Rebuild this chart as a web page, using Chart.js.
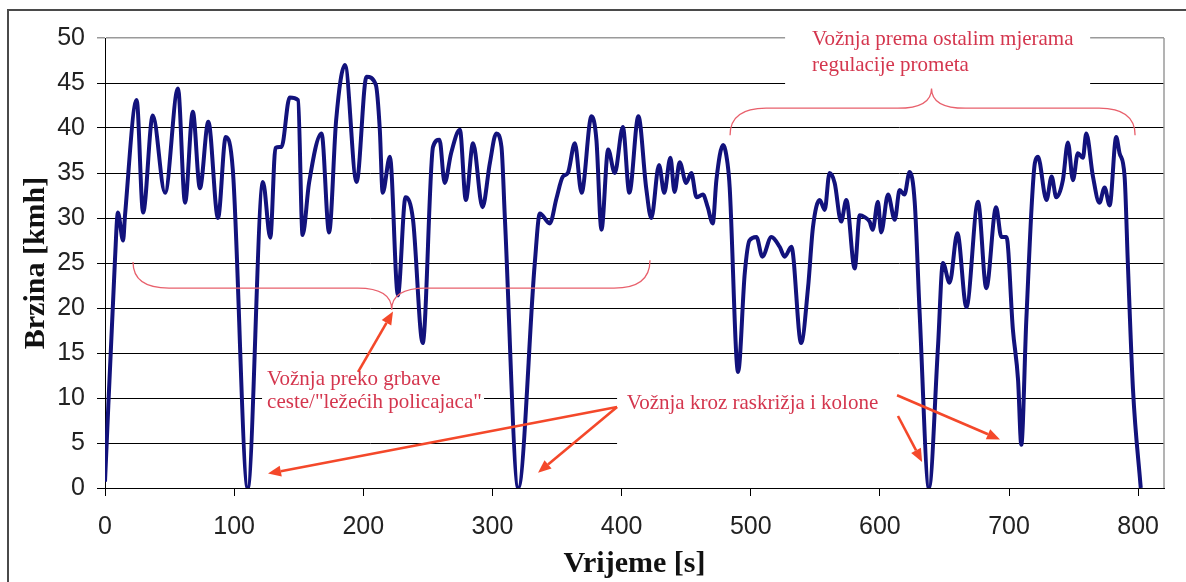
<!DOCTYPE html>
<html>
<head>
<meta charset="utf-8">
<script src="https://cdn.jsdelivr.net/npm/chart.js@4.4.1/dist/chart.umd.min.js"></script>
<style>
  html, body { margin: 0; padding: 0; background: #fff; }
  canvas { display: block; }
</style>
</head>
<body>
<canvas id="speedChart" width="1186" height="582"></canvas>
<script>
// vrijeme [s] i brzina [km/h] ocitane s voznje
const timeS = [
  0, 7.7, 10, 14, 15.5, 24.5, 29.5, 37, 46.5, 56.5, 62, 68, 73.5, 80, 87.5, 93.5, 99,
  110.5, 122.3, 128, 132, 136.7, 143, 149.5, 153, 158, 167.7, 173.5, 179, 185.8, 194.8,
  202.5, 209.7, 212.8, 215, 220.6, 226.8, 232.7, 238.5, 246, 254, 259, 263, 268, 274.8,
  279.4, 285, 292.3, 298, 303, 307, 309.6, 320, 332.8, 336.7, 344.4, 349.6, 354.5, 358.4,
  363.8, 369, 376.7, 380.5, 384.4, 389.6, 394.7, 401, 406, 413, 419, 423, 429, 433, 437.8,
  441, 445, 450, 454, 458, 463, 466.7, 470.6, 473.4, 478.6, 482, 483.7, 490.2, 495.4, 499,
  504.4, 509, 516, 522.4, 526.3, 531.5, 539, 544.4, 548.2, 553.4, 557.3, 561, 565, 570, 574,
  580.5, 584.4, 588.2, 592, 594.4, 598.5, 601, 606.3, 611.5, 615.3, 619, 623, 627, 630.8,
  638, 645, 648.8, 654, 660, 667, 676, 682.4, 690, 694, 698, 703, 707, 709.5, 713.4, 720,
  722.4, 729, 733, 736.6, 741.7, 745.6, 749.5, 753.3, 757.2, 759.8, 765, 770, 774, 777.9,
  783, 785.6, 789.5, 792, 796, 802
];
const speedKmh = [
  0.7, 25.3, 30.6, 27.5, 30.3, 43.1, 30.6, 41.4, 32.8, 44.4, 31.7, 41.8, 33.3, 40.7, 30, 39, 35.3,
  0, 34, 27.8, 37.8, 37.9, 43.4, 43.1, 28.1, 33.9, 39.4, 28.4, 40.9, 47, 34,
  45.7, 44.8, 39.8, 32.8, 36.8, 21.4, 32.3, 29.8, 16.1, 37.9, 38.7, 33.9, 37.2, 39.8,
  32, 38.3, 31.2, 36.1, 39.4, 37.9, 30.1, 0, 25, 30.5, 29.4, 32.2, 34.6, 35,
  38.3, 32.8, 41.3, 38.7, 28.7, 37.6, 35, 40.1, 32.8, 41.3, 33.4, 30, 35.9, 32.8, 36.7,
  32.9, 36.2, 33.9, 35, 32.3, 32.6, 31.2, 29.4, 34.2, 38.1, 36.1, 33.4, 12.9, 23.9, 27.5,
  27.9, 25.7, 27.9, 26.8, 25.7, 26.8, 16.1, 22.3, 29, 32, 30.9, 35, 33.9, 29.6, 32,
  24.4, 30.3, 30.1, 29.6, 28.7, 31.8, 28.4, 32.6, 29.8, 33.1, 32.6, 35.1, 31.7, 19.4,
  0, 15.7, 25, 22.8, 28.3, 20.1, 31.8, 22.2, 31.2, 27.9, 27.9, 17.6, 12, 4.8, 18.7, 36.1,
  36.8, 32, 34.6, 32.3, 34.2, 38.4, 34.2, 37.2, 36.7, 39.4, 34.6, 31.7, 33.4, 31.4,
  39, 37.2, 34.6, 25, 10.9, 0
];
const xTicks = [0, 100, 200, 300, 400, 500, 600, 700, 800];
const yTicks = [0, 5, 10, 15, 20, 25, 30, 35, 40, 45, 50];

// opisi dijelova voznje (u jedinicama osi: s, km/h)
const noteBoxes = [
  { t0: 121.6, t1: 293.5, v0: 13.7, v1: 8.3 },
  { t0: 396.5, t1: 633.5, v0: 13.3, v1: 3.3 },
  { t0: 526.6, t1: 762.8, v0: 52.2, v1: 43.6 }
];
const noteTexts = [
  { t: 125.5, v: 12.1, text: 'Vožnja preko grbave' },
  { t: 125.5, v: 9.5, text: 'ceste/"ležećih policajaca"' },
  { t: 404, v: 9.4, text: 'Vožnja kroz raskrižja i kolone' },
  { t: 547.5, v: 49.8, text: 'Vožnja prema ostalim mjerama' },
  { t: 547.5, v: 47.0, text: 'regulacije prometa' }
];
const noteArrows = [
  { from: [196, 12.9], to: [223, 19.6] },
  { from: [396.5, 9], to: [126.2, 1.6] },
  { from: [396.5, 9], to: [335.3, 1.7] },
  { from: [613.3, 10.3], to: [693, 5.4] },
  { from: [614, 8], to: [632.7, 2.9] }
];
const noteBraces = [
  { left: [21.7, 25.1], level: 22.2, tip: [222, 19.8], right: [422, 25.3] },
  { left: [484, 39.2], level: 42.2, tip: [640, 44.4], right: [797.6, 39.2] }
];

const points = timeS.map((t, i) => ({ x: t, y: speedKmh[i] }));

function drawBrace(ctx, x0, y0, yH, xc, yc, x1, y1) {
  const r = 36, rc = 34;
  ctx.beginPath();
  ctx.moveTo(x0, y0);
  ctx.quadraticCurveTo(x0, yH, x0 + r, yH);
  ctx.lineTo(xc - rc, yH);
  ctx.bezierCurveTo(xc - rc * 0.35, yH, xc, yH + (yc - yH) * 0.3, xc, yc);
  ctx.bezierCurveTo(xc, yH + (yc - yH) * 0.3, xc + rc * 0.35, yH, xc + rc, yH);
  ctx.lineTo(x1 - r, yH);
  ctx.quadraticCurveTo(x1, yH, x1, y1);
  ctx.stroke();
}

function drawArrow(ctx, xa, ya, xb, yb) {
  const ang = Math.atan2(yb - ya, xb - xa);
  const len = 13, half = 5.5;
  const bx = xb - Math.cos(ang) * len, by = yb - Math.sin(ang) * len;
  ctx.beginPath();
  ctx.moveTo(xa, ya);
  ctx.lineTo(bx, by);
  ctx.stroke();
  ctx.beginPath();
  ctx.moveTo(xb, yb);
  ctx.lineTo(bx - Math.sin(ang) * half, by + Math.cos(ang) * half);
  ctx.lineTo(bx + Math.sin(ang) * half, by - Math.cos(ang) * half);
  ctx.closePath();
  ctx.fill();
}

const notesPlugin = {
  id: 'notes',
  beforeDatasetsDraw(chart) {
    const { ctx, chartArea, scales: { x, y } } = chart;
    ctx.save();
    // desni rub podrucja crtanja
    ctx.strokeStyle = '#9a9a9a';
    ctx.lineWidth = 1.5;
    ctx.beginPath();
    ctx.moveTo(chartArea.right, chartArea.top);
    ctx.lineTo(chartArea.right, chartArea.bottom);
    ctx.stroke();
    // bijela podloga ispod opisa
    ctx.fillStyle = '#fff';
    noteBoxes.forEach(b => {
      const l = x.getPixelForValue(b.t0), r = x.getPixelForValue(b.t1);
      const t = y.getPixelForValue(b.v0), bt = y.getPixelForValue(b.v1);
      ctx.fillRect(l, t, r - l, bt - t);
    });
    ctx.restore();
  },
  afterDatasetsDraw(chart) {
    const { ctx, scales: { x, y } } = chart;
    ctx.save();
    ctx.strokeStyle = '#e8606c';
    ctx.lineWidth = 1.3;
    noteBraces.forEach(b => {
      drawBrace(ctx,
        x.getPixelForValue(b.left[0]), y.getPixelForValue(b.left[1]),
        y.getPixelForValue(b.level),
        x.getPixelForValue(b.tip[0]), y.getPixelForValue(b.tip[1]),
        x.getPixelForValue(b.right[0]), y.getPixelForValue(b.right[1]));
    });
    ctx.strokeStyle = '#f4482a';
    ctx.fillStyle = '#f4482a';
    ctx.lineWidth = 2.6;
    noteArrows.forEach(a => {
      drawArrow(ctx,
        x.getPixelForValue(a.from[0]), y.getPixelForValue(a.from[1]),
        x.getPixelForValue(a.to[0]), y.getPixelForValue(a.to[1]));
    });
    ctx.fillStyle = '#d4364e';
    ctx.font = '21px "Liberation Serif", "Times New Roman", serif';
    ctx.textAlign = 'left';
    ctx.textBaseline = 'middle';
    noteTexts.forEach(n => {
      ctx.fillText(n.text, x.getPixelForValue(n.t), y.getPixelForValue(n.v));
    });
    ctx.restore();
  },
  afterDraw(chart) {
    const { ctx, width, height } = chart;
    ctx.save();
    ctx.strokeStyle = '#4a4a4a';
    ctx.lineWidth = 2;
    ctx.beginPath();
    ctx.moveTo(8, height);
    ctx.lineTo(8, 10);
    ctx.lineTo(width, 10);
    ctx.stroke();
    ctx.restore();
  }
};

const tickFont = { family: '"Liberation Sans", Arial, sans-serif', size: 25 };
const titleFont = { family: '"Liberation Serif", "Times New Roman", serif', size: 30, weight: 'bold' };

new Chart(document.getElementById('speedChart'), {
  type: 'line',
  data: {
    datasets: [{
      label: 'Brzina',
      data: points,
      borderColor: '#12127c',
      backgroundColor: '#12127c',
      borderWidth: 4,
      pointRadius: 0,
      fill: false,
      cubicInterpolationMode: 'monotone'
    }]
  },
  options: {
    responsive: false,
    animation: false,
    events: [],
    layout: { padding: { top: 38, right: 22, bottom: 0, left: 0 } },
    plugins: {
      legend: { display: false },
      tooltip: { enabled: false }
    },
    scales: {
      x: {
        type: 'linear',
        min: 0,
        max: 820,
        afterBuildTicks: s => { s.ticks = xTicks.map(v => ({ value: v })); },
        afterFit: s => { s.height = 94; },
        ticks: { font: tickFont, color: '#222', padding: 16, maxRotation: 0 },
        grid: { drawOnChartArea: false, drawTicks: true, tickLength: 8, color: '#000', lineWidth: 1 },
        border: { color: '#000', width: 1 },
        title: { display: true, text: 'Vrijeme [s]', font: titleFont, color: '#111', padding: { top: 0, bottom: 0 } }
      },
      y: {
        min: 0,
        max: 50,
        afterBuildTicks: s => { s.ticks = yTicks.map(v => ({ value: v })); },
        afterFit: s => { s.width = 105; },
        ticks: { font: tickFont, color: '#222', padding: 12 },
        grid: {
          color: c => (c.tick && c.tick.value === 50 ? '#9a9a9a' : '#000'),
          lineWidth: c => (c.tick && c.tick.value === 50 ? 1.5 : 1),
          tickLength: 8
        },
        border: { color: '#000', width: 1 },
        title: { display: true, text: 'Brzina [kmh]', font: titleFont, color: '#111', padding: { top: 18, bottom: 0 } }
      }
    }
  },
  plugins: [notesPlugin]
});
</script>
</body>
</html>
